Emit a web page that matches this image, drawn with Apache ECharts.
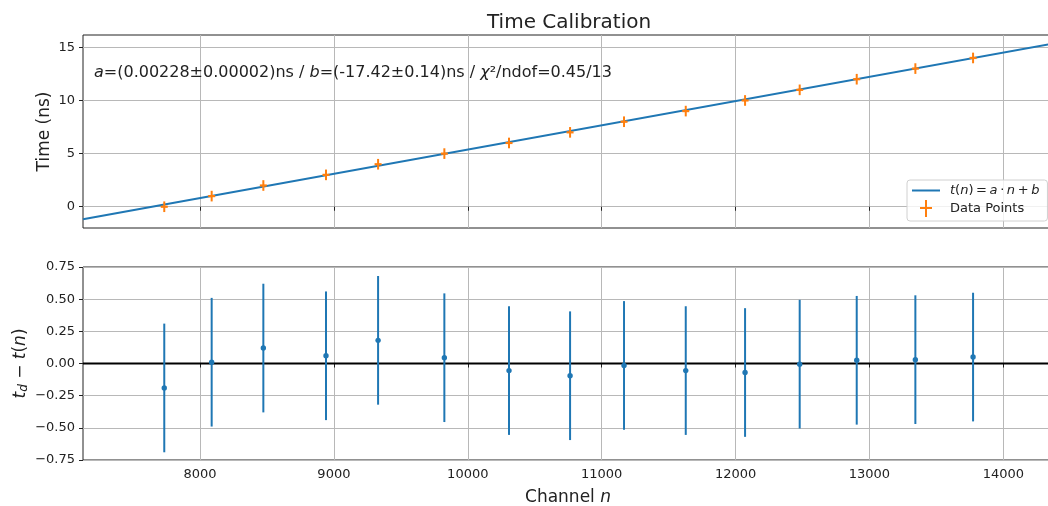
<!DOCTYPE html>
<html>
<head>
<meta charset="utf-8">
<title>Time Calibration</title>
<script src="https://cdn.jsdelivr.net/npm/echarts@6/dist/echarts.min.js"></script>
<style>
  html, body { margin: 0; padding: 0; background: #fff; }
  #chart { width: 1048px; height: 506px; }
</style>
</head>
<body>
<div id="chart"></div>
<script>
// channel of each calibration point
var channels = [7733, 8087, 8473, 8941, 9330, 9825, 10308, 10764, 11167, 11628, 12071, 12479, 12905, 13343, 13774];
// delay (ns) and its error
var times = [0, 1, 2, 3, 4, 5, 6, 7, 8, 9, 10, 11, 12, 13, 14];
var timeErr = [0.5, 0.5, 0.5, 0.5, 0.5, 0.5, 0.5, 0.5, 0.5, 0.5, 0.5, 0.5, 0.5, 0.5, 0.5];
// residuals t_d - t(n) and their error
var residuals = [-0.19, 0.01, 0.12, 0.06, 0.18, 0.045, -0.055, -0.095, -0.015, -0.055, -0.07, -0.005, 0.025, 0.03, 0.05];
var residualErr = [0.5, 0.5, 0.5, 0.5, 0.5, 0.5, 0.5, 0.5, 0.5, 0.5, 0.5, 0.5, 0.5, 0.5, 0.5];
// fit line end points
var fitN = [7126, 14371];
var fitT = [-1.17, 15.35];
// zero line of the residual panel
var zeroN = [7126, 14371];
var zeroT = [0, 0];
// tick labels
var channelTicks = [8000, 9000, 10000, 11000, 12000, 13000, 14000];
var timeTicks = [0, 5, 10, 15];

var FONT = 'DejaVu Sans';
var BLUE = '#1f77b4';
var ORANGE = '#ff7f0e';
var fitName = 't(n) = a·n + b';
var TS = '\u2009';

function zip3(a, b, c) {
  return a.map(function (v, i) { return [v, b[i], c[i]]; });
}

// vertical error bar plus a marker, drawn through the axis scales
function errorBar(color, marker) {
  return function (params, api) {
    var n = api.value(0), y = api.value(1), e = api.value(2);
    var hi = api.coord([n, y + e]);
    var lo = api.coord([n, y - e]);
    var c = api.coord([n, y]);
    var kids = [{
      type: 'line',
      shape: { x1: hi[0], y1: hi[1], x2: lo[0], y2: lo[1] },
      style: { stroke: color, lineWidth: 2 }
    }];
    if (marker === 'plus') {
      kids.push({
        type: 'line',
        shape: { x1: c[0] - 3.5, y1: c[1], x2: c[0] + 3.5, y2: c[1] },
        style: { stroke: color, lineWidth: 2.2 }
      });
    } else {
      kids.push({
        type: 'circle',
        shape: { cx: c[0], cy: c[1], r: 2.7 },
        style: { fill: color }
      });
    }
    return { type: 'group', children: kids };
  };
}

var tickText = { fontFamily: FONT, fontSize: 13, color: '#222' };
var gridLine = { show: true, lineStyle: { color: '#b8b8b8', width: 1 } };
var tickStyle = { show: true, inside: false, length: 4, lineStyle: { color: '#222', width: 1 } };

var chart = echarts.init(document.getElementById('chart'));
chart.setOption({
  animation: false,
  textStyle: { fontFamily: FONT },
  title: {
    text: 'Time Calibration',
    left: 482,
    top: 8,
    textStyle: { fontFamily: FONT, fontSize: 20, fontWeight: 'normal', color: '#222' }
  },
  grid: [
    { left: 83, right: -5, top: 35, height: 193, outerBoundsMode: 'none', show: true, borderColor: '#222', borderWidth: 1 },
    { left: 83, right: -5, top: 267, height: 193, outerBoundsMode: 'none', show: true, borderColor: '#222', borderWidth: 1 }
  ],
  xAxis: [{
    gridIndex: 0, type: 'value', min: fitN[0], max: fitN[1],
    axisLine: { show: false },
    axisTick: Object.assign({ customValues: channelTicks }, tickStyle),
    axisLabel: { show: false, customValues: channelTicks },
    splitLine: gridLine
  }, {
    gridIndex: 1, type: 'value', min: zeroN[0], max: zeroN[1],
    axisLine: { show: false },
    axisTick: Object.assign({ customValues: channelTicks }, tickStyle),
    axisLabel: Object.assign({ customValues: channelTicks, margin: 8, formatter: function (v) { return String(v); } }, tickText),
    splitLine: gridLine,
    name: '{n|Channel }{i|n}',
    nameLocation: 'middle',
    nameMoveOverlap: false,
    nameGap: 29,
    nameTextStyle: {
      rich: {
        n: { fontFamily: FONT, fontSize: 17, color: '#222' },
        i: { fontFamily: FONT, fontSize: 17, fontStyle: 'italic', color: '#222' }
      }
    }
  }],
  yAxis: [{
    gridIndex: 0, type: 'value', min: -2.0, max: 16.16,
    axisLine: { show: false },
    axisTick: Object.assign({ customValues: timeTicks }, tickStyle),
    axisLabel: Object.assign({ customValues: timeTicks, margin: 8 }, tickText),
    splitLine: gridLine,
    name: 'Time (ns)',
    nameLocation: 'middle',
    nameMoveOverlap: false,
    nameGap: 30,
    nameTextStyle: { fontFamily: FONT, fontSize: 17, color: '#222' }
  }, {
    gridIndex: 1, type: 'value', min: -0.75, max: 0.75, interval: 0.25,
    axisLine: { show: false },
    axisTick: tickStyle,
    axisLabel: Object.assign({ margin: 8, formatter: function (v) { return v.toFixed(2).replace('-', '\u2212'); } }, tickText),
    splitLine: gridLine,
    name: '{i|t}{s|d}{n| \u2212 }{i|t}{n|(}{i|n}{n|)}',
    nameLocation: 'middle',
    nameMoveOverlap: false,
    nameGap: 53,
    nameTextStyle: {
      rich: {
        n: { fontFamily: FONT, fontSize: 17, color: '#222' },
        i: { fontFamily: FONT, fontSize: 17, fontStyle: 'italic', color: '#222' },
        s: { fontFamily: FONT, fontSize: 12, fontStyle: 'italic', color: '#222', verticalAlign: 'bottom', padding: [6, 0, 0, 0] }
      }
    }
  }],
  legend: {
    left: 907,
    top: 180,
    orient: 'vertical',
    itemWidth: 28,
    itemHeight: 17,
    itemGap: 3,
    padding: [4, 8, 4, 5],
    borderColor: '#d0d0d0',
    borderWidth: 1,
    borderRadius: 3,
    backgroundColor: 'rgba(255,255,255,0.8)',
    data: [
      { name: fitName, icon: 'path://M0,0h28v2h-28z' },
      { name: 'Data Points', icon: 'path://M5,0h2v7h5v2h-5v8h-2v-8h-5v-2h5z' }
    ],
    textStyle: {
      fontFamily: FONT, fontSize: 13, color: '#222', padding: [0, 0, 0, 5],
      rich: {
        i: { fontFamily: FONT, fontSize: 13, fontStyle: 'italic', color: '#222' },
        n: { fontFamily: FONT, fontSize: 13, color: '#222' }
      }
    },
    formatter: function (name) {
      if (name === fitName) {
        return '{i|t}{n|(}{i|n}{n|)' + TS + '=' + TS + '}{i|a}{n|' + TS + '\u00b7' + TS + '}{i|n}{n|' + TS + '+' + TS + '}{i|b}';
      }
      return name;
    }
  },
  graphic: [{
    type: 'text',
    left: 94,
    top: 65,
    style: {
      text: '{i|a}{n|=(0.00228\u00b10.00002)ns / }{i|b}{n|=(-17.42\u00b10.14)ns / }{i|\u03c7}{n|\u00b2/ndof=0.45/13}',
      rich: {
        n: { fontFamily: FONT, fontSize: 16, fill: '#222' },
        i: { fontFamily: FONT, fontSize: 16, fontStyle: 'italic', fill: '#222' }
      }
    },
    z: 10
  }],
  series: [{
    name: fitName,
    type: 'line',
    xAxisIndex: 0, yAxisIndex: 0,
    data: fitN.map(function (n, i) { return [n, fitT[i]]; }),
    symbol: 'none',
    lineStyle: { color: BLUE, width: 2 },
    itemStyle: { color: BLUE },
    z: 3
  }, {
    name: 'Data Points',
    type: 'custom',
    xAxisIndex: 0, yAxisIndex: 0,
    data: zip3(channels, times, timeErr),
    encode: { x: 0, y: 1 },
    renderItem: errorBar(ORANGE, 'plus'),
    itemStyle: { color: ORANGE },
    z: 4
  }, {
    name: 'zero',
    type: 'line',
    xAxisIndex: 1, yAxisIndex: 1,
    data: zeroN.map(function (n, i) { return [n, zeroT[i]]; }),
    symbol: 'none',
    lineStyle: { color: '#000', width: 2 },
    z: 3
  }, {
    name: 'residuals',
    type: 'custom',
    xAxisIndex: 1, yAxisIndex: 1,
    data: zip3(channels, residuals, residualErr),
    encode: { x: 0, y: 1 },
    renderItem: errorBar(BLUE, 'dot'),
    z: 4
  }]
});
</script>
</body>
</html>
